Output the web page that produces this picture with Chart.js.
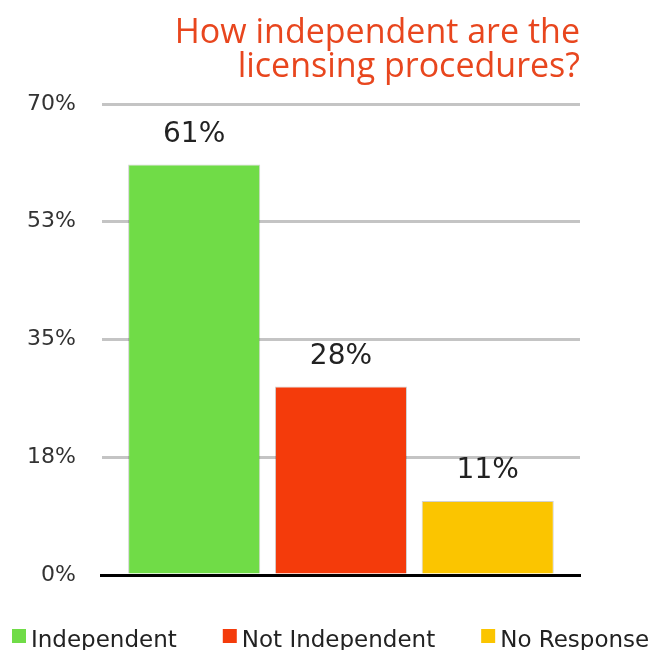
<!DOCTYPE html>
<html>
<head>
<meta charset="utf-8">
<script src="https://cdn.jsdelivr.net/npm/chart.js@4/dist/chart.umd.min.js"></script>
<style>
  html, body { margin: 0; padding: 0; background: #ffffff; }
  #wrap { width: 660px; height: 650px; position: relative; }
</style>
</head>
<body>
<div id="wrap"><canvas id="c" width="660" height="650"></canvas></div>
<script>
const titleLines = ["How independent are the", "licensing procedures?"];
const seriesNames = ["Independent", "Not Independent", "No Response"];
const seriesValues = [61, 28, 11];
const seriesColors = ["#70dc47", "#f43b0b", "#fbc500"];
const yMax = 70;
const yStep = 17.5;

const datasets = seriesNames.map((name, i) => ({
  label: name,
  data: [seriesValues[i]],
  backgroundColor: seriesColors[i],
  borderColor: "rgba(0,0,0,0.18)",
  borderWidth: 1,
  borderSkipped: "bottom",
  categoryPercentage: 0.921,
  barPercentage: 0.9
}));

const valueLabels = {
  id: "valueLabels",
  afterDatasetsDraw(chart) {
    const ctx = chart.ctx;
    ctx.save();
    ctx.font = "28px 'DejaVu Sans'";
    ctx.fillStyle = "#222222";
    ctx.textAlign = "center";
    ctx.textBaseline = "middle";
    chart.data.datasets.forEach((ds, i) => {
      const meta = chart.getDatasetMeta(i);
      meta.data.forEach((bar, j) => {
        ctx.fillText(ds.data[j] + "%", bar.x, bar.y - 30);
      });
    });
    ctx.restore();
  }
};

const customLegend = {
  id: "customLegend",
  afterDraw(chart) {
    const ctx = chart.ctx;
    ctx.save();
    ctx.font = "23px 'DejaVu Sans'";
    ctx.textAlign = "left";
    ctx.textBaseline = "alphabetic";
    let x = 12;
    const boxTop = 629, box = 14, baseline = 647;
    chart.data.datasets.forEach((ds) => {
      ctx.fillStyle = ds.backgroundColor;
      ctx.fillRect(x, boxTop, box, box);
      ctx.fillStyle = "#222222";
      const tx = x + box + 5;
      ctx.fillText(ds.label, tx, baseline);
      x = tx + ctx.measureText(ds.label).width + 46;
    });
    ctx.restore();
  }
};

new Chart(document.getElementById("c"), {
  type: "bar",
  data: { labels: [""], datasets },
  options: {
    responsive: false,
    animation: false,
    devicePixelRatio: 1,
    layout: { padding: { left: 1, right: 80, top: 0, bottom: 75 } },
    plugins: {
      legend: { display: false },
      tooltip: { enabled: false },
      title: {
        display: true,
        text: titleLines,
        align: "end",
        fullSize: false,
        color: "#e8461e",
        font: { family: "Open Sans", size: 34, weight: "normal", lineHeight: 1.0 },
        padding: { top: 16, bottom: 20 }
      }
    },
    scales: {
      x: {
        grid: { display: false, drawTicks: false },
        ticks: { display: false },
        border: { display: true, color: "#000000", width: 3 }
      },
      y: {
        min: 0,
        max: yMax,
        afterBuildTicks(scale) {
          const t = [];
          for (let v = 0; v <= yMax + 1e-9; v += yStep) t.push({ value: v });
          scale.ticks = t;
        },
        ticks: {
          padding: 26,
          color: "#333333",
          font: { family: "DejaVu Sans", size: 22 },
          callback: (v) => Math.round(v) + "%"
        },
        grid: { color: "#c4c4c4", lineWidth: 3, drawTicks: false },
        border: { display: false }
      }
    }
  },
  plugins: [valueLabels, customLegend]
});
</script>
</body>
</html>
